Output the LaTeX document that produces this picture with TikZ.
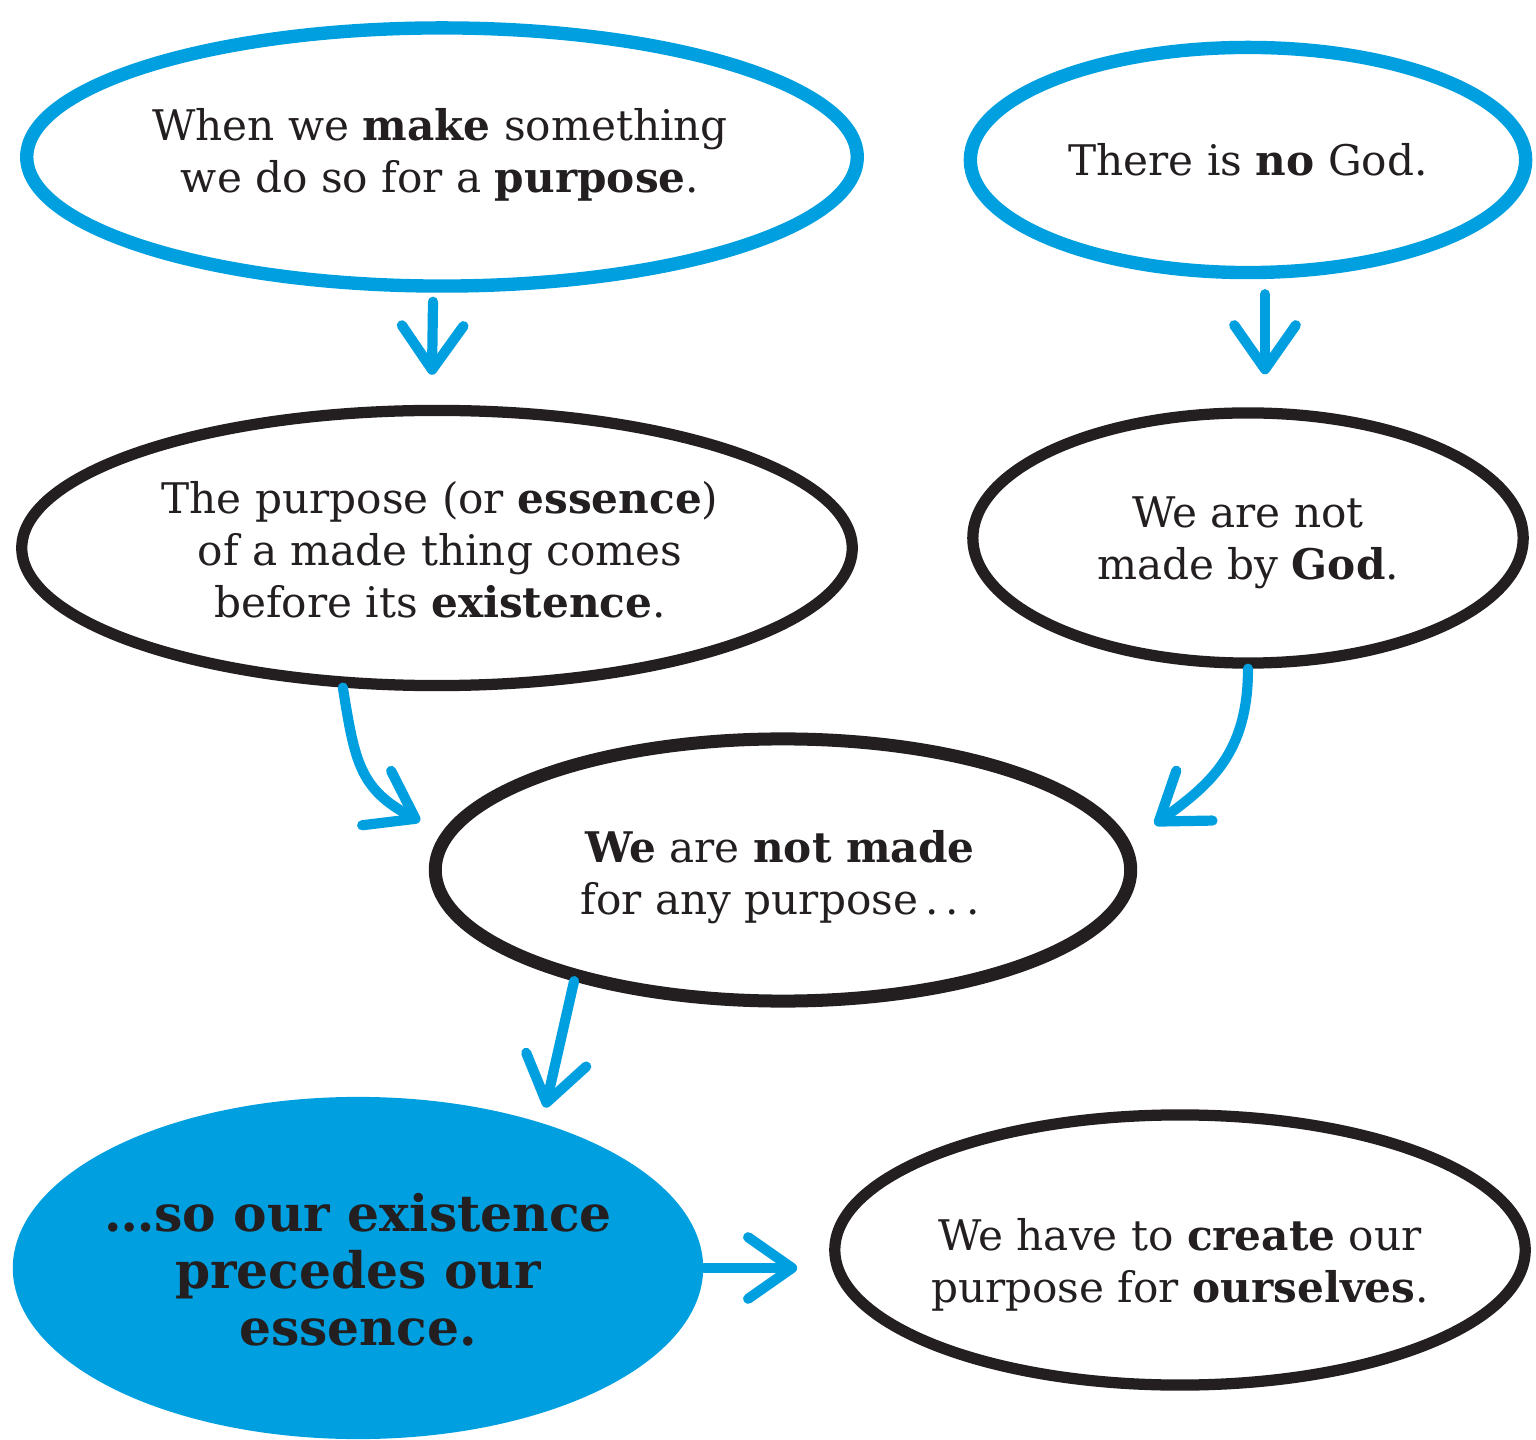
\documentclass[tikz,border=0pt]{standalone}
\usepackage{fontspec}
\setmainfont{DejaVu Serif}
\usetikzlibrary{shapes.geometric,arrows.meta,calc}
\definecolor{sblue}{RGB}{0,159,223}
\definecolor{ink}{RGB}{35,31,32}
\begin{document}
\begin{tikzpicture}[x=0.01cm,y=-0.01cm,
  oval/.style={ellipse, inner sep=0pt},
  blueoval/.style={oval, draw=sblue, line width=3.8pt},
  blackoval/.style={oval, draw=ink, line width=3.2pt},
  txt/.style={align=center, text=ink, font=\fontsize{12}{14.8}\selectfont},
  bigtxt/.style={align=center, text=ink, font=\bfseries\fontsize{14.3}{16.2}\selectfont},
  arr/.style={draw=sblue, line width=2.9pt, line cap=round, line join=round,
    -{Straight Barb[length=12.5pt,width=17.5pt,round]}}]
\useasboundingbox (0,0) rectangle (1536,1440);
% ovals
\node[blueoval, minimum width=8.3cm, minimum height=2.58cm] (e1) at (442,157) {};
\node[blueoval, minimum width=5.55cm, minimum height=2.25cm] (e2) at (1248,160) {};
\node[blackoval, minimum width=8.3cm, minimum height=2.75cm] (e3) at (437,548) {};
\node[blackoval, minimum width=5.5cm, minimum height=2.5cm] (e4) at (1248,538) {};
\node[blackoval, minimum width=6.95cm, minimum height=2.62cm, line width=3.7pt] (e5) at (783,870) {};
\node[ellipse, inner sep=0pt, fill=sblue, minimum width=6.9cm, minimum height=3.42cm] (e6) at (358,1268) {};
\node[blackoval, minimum width=6.9cm, minimum height=2.7cm] (e7) at (1180,1250) {};
% texts
\node[txt] (t1) at (440,155) {When we \textbf{make} something\\we do so for a \textbf{purpose}.};
\node[txt] (t2) at (1248,160) {There is \textbf{no} God.};
\node[txt] (t3) at (440,550) {The purpose (or \textbf{essence})\\of a made thing comes\\before its \textbf{existence}.};
\node[txt] (t4) at (1248,543) {We are not\\made by \textbf{God}.};
\node[txt] (t5) at (780,877) {\textbf{We} are \textbf{not made}\\for any purpose\,.\,.\,.};
\node[bigtxt] (t6) at (358,1270) {…so our existence\\precedes our\\essence.};
\node[txt] (t7) at (1180,1265) {We have to \textbf{create} our\\purpose for \textbf{ourselves}.};
% connectors
\draw[arr] ($(e1.south)+(-9,9)$) -- ($(e3.north)+(-5,-30)$);
\draw[arr] ($(e2.south)+(17,15)$) -- ($(e4.north)+(17,-33)$);
\draw[arr] (e3.-124) .. controls +(12,75) and +(-60,-32) .. ($(e5.172)+(-30,-2)$);
\draw[arr] (e4.south) .. controls +(0,85) and +(55,-40) .. ($(e5.7)+(34,-4)$);
\draw[arr] (e5.-152) -- ($(e6.37)+(-3,-17)$);
\draw[arr] (e6.east) -- ($(e6.east -| e7.west)+(-32,0)$);
\end{tikzpicture}
\end{document}
